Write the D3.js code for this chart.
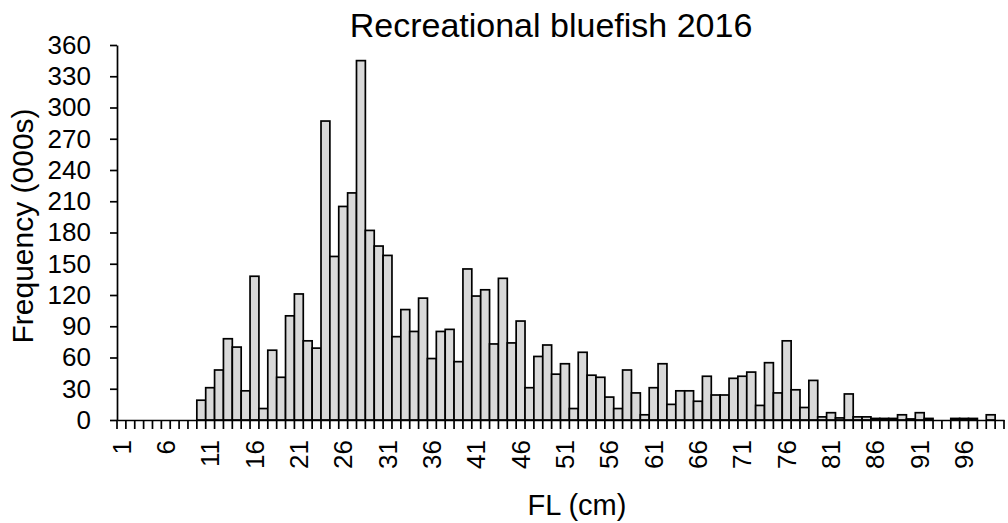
<!DOCTYPE html>
<html>
<head>
<meta charset="utf-8">
<script src="https://cdn.jsdelivr.net/npm/d3@7"></script>
<style>
  body { margin: 0; background: white; }
  text { font-family: "Liberation Sans", Arial, sans-serif; fill: black; }
</style>
</head>
<body>
<div id="chartcontainer"></div>
<script>

// fork length classes, cm
let lengths = [
  1, 2, 3, 4, 5, 6, 7, 8, 9, 10,
  11, 12, 13, 14, 15, 16, 17, 18, 19, 20,
  21, 22, 23, 24, 25, 26, 27, 28, 29, 30,
  31, 32, 33, 34, 35, 36, 37, 38, 39, 40,
  41, 42, 43, 44, 45, 46, 47, 48, 49, 50,
  51, 52, 53, 54, 55, 56, 57, 58, 59, 60,
  61, 62, 63, 64, 65, 66, 67, 68, 69, 70,
  71, 72, 73, 74, 75, 76, 77, 78, 79, 80,
  81, 82, 83, 84, 85, 86, 87, 88, 89, 90,
  91, 92, 93, 94, 95, 96, 97, 98, 99, 100
];
// frequency (000s)
let frequency = [
  0, 0, 0, 0, 0, 0, 0, 0, 0, 19,
  31, 48, 78, 70, 28, 138, 11, 67, 41, 100,
  121, 76, 69, 287, 157, 205, 218, 345, 182, 167,
  158, 80, 106, 85, 117, 59, 85, 87, 56, 145,
  119, 125, 73, 136, 74, 95, 31, 61, 72, 44,
  54, 11, 65, 43, 41, 22, 11, 48, 26, 5,
  31, 54, 15, 28, 28, 18, 42, 24, 24, 40,
  42, 46, 14, 55, 26, 76, 29, 12, 38, 3,
  7, 2, 25, 3, 3, 1.5, 1.5, 1.5, 5, 1,
  7, 1.5, 0, 0, 1.5, 1.5, 1.5, 0, 5, 0
];
let xLabels = [1, 6, 11, 16, 21, 26, 31, 36, 41, 46, 51, 56, 61, 66, 71, 76, 81, 86, 91, 96];
let yTicks = [0, 30, 60, 90, 120, 150, 180, 210, 240, 270, 300, 330, 360];

let w = 1008;
let h = 523;

let svg = d3.select("#chartcontainer")
  .append("svg")
  .attr("width", w)
  .attr("height", h);

let x = d3.scaleBand()
  .domain(lengths)
  .range([117, 1004])
  .padding(0);

let y = d3.scaleLinear()
  .domain([0, 360])
  .range([420, 45]);

// bars
svg.append("g")
  .selectAll("rect")
  .data(lengths)
  .enter()
  .append("rect")
  .attr("x", d => x(d))
  .attr("width", x.bandwidth())
  .attr("y", (d, i) => y(frequency[i]))
  .attr("height", (d, i) => y(0) - y(frequency[i]))
  .attr("fill", "#d9d9d9")
  .attr("stroke", "black")
  .attr("stroke-width", 1.7);

// y axis
let yAxis = svg.append("g")
  .attr("transform", "translate(117,0)")
  .call(d3.axisLeft(y).tickValues(yTicks).tickSize(7).tickPadding(19).tickSizeOuter(0));
yAxis.select(".domain").attr("stroke", "black").attr("stroke-width", 1.7);
yAxis.selectAll(".tick line").attr("stroke", "black").attr("stroke-width", 1.7);
yAxis.selectAll(".tick text")
  .style("font-family", "'Liberation Sans', Arial, sans-serif")
  .style("font-size", "26px")
  .attr("fill", "black");

// x axis labels
let xAxis = svg.append("g")
  .attr("transform", "translate(0,420)")
  .call(d3.axisBottom(x).tickValues(xLabels).tickSize(0).tickSizeOuter(0));
xAxis.select(".domain").attr("stroke", "black").attr("stroke-width", 1.7);
xAxis.selectAll(".tick text")
  .attr("transform", "rotate(-90)")
  .attr("x", -20)
  .attr("y", 0)
  .attr("dy", "0.35em")
  .style("text-anchor", "end")
  .style("font-family", "'Liberation Sans', Arial, sans-serif")
  .style("font-size", "26px")
  .attr("fill", "black");

// x tick marks on class boundaries
let edges = lengths.map(d => x(d)).concat([x(lengths[lengths.length - 1]) + x.bandwidth()]);
svg.append("g")
  .selectAll("line")
  .data(edges)
  .enter()
  .append("line")
  .attr("x1", d => d)
  .attr("x2", d => d)
  .attr("y1", 420)
  .attr("y2", 429)
  .attr("stroke", "black")
  .attr("stroke-width", 1.7);

// titles
svg.append("text")
  .text("Recreational bluefish 2016")
  .attr("x", 551)
  .attr("y", 37)
  .attr("text-anchor", "middle")
  .style("font-size", "34px");

svg.append("text")
  .text("FL (cm)")
  .attr("x", 577)
  .attr("y", 515)
  .attr("text-anchor", "middle")
  .style("font-size", "29px");

svg.append("text")
  .text("Frequency (000s)")
  .attr("transform", "translate(33,226) rotate(-90)")
  .attr("text-anchor", "middle")
  .style("font-size", "30px");

</script>
</body>
</html>
